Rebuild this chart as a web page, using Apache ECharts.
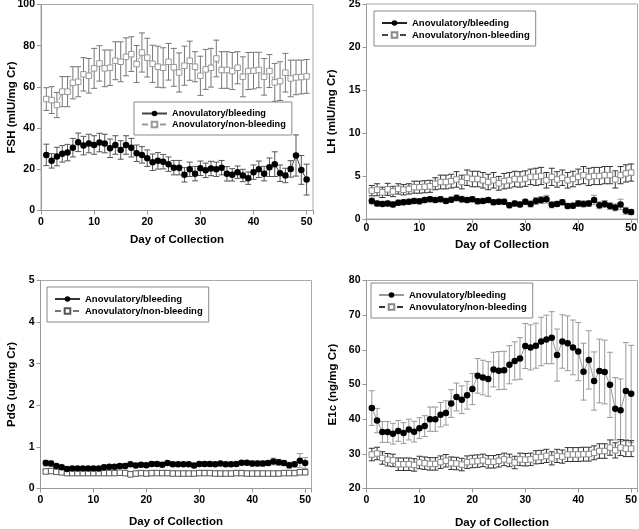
<!DOCTYPE html>
<html><head><meta charset="utf-8">
<script src="https://cdn.jsdelivr.net/npm/echarts@6/dist/echarts.min.js"></script>
<style>html,body{margin:0;padding:0;background:#fff}#c{width:639px;height:529px}</style>
</head><body><div id="c"></div>
<script>
const days = [1,2,3,4,5,6,7,8,9,10,11,12,13,14,15,16,17,18,19,20,21,22,23,24,25,26,27,28,29,30,31,32,33,34,35,36,37,38,39,40,41,42,43,44,45,46,47,48,49,50];
const seriesNames = ['Anovulatory/bleeding', 'Anovulatory/non-bleeding'];
const xTitle = 'Day of Collection';

const FSH_bleed = [27.0,24.1,26.2,27.5,28.1,30.5,33.1,31.5,32.5,31.8,33.0,32.5,30.2,31.8,29.4,31.8,30.5,27.8,27.0,25.4,23.4,24.1,23.7,22.5,20.8,20.8,17.3,20.0,17.9,20.5,19.5,20.4,20.0,20.8,17.8,17.3,18.6,17.0,15.7,18.6,20.0,17.9,21.0,22.5,18.1,17.0,20.2,26.7,19.7,15.0];
const FSH_bleed_err = [5.2,3.5,4.5,4.0,4.0,4.5,4.5,4.5,4.5,4.5,4.5,4.5,4.5,4.5,4.5,4.5,4.5,4.0,4.0,4.0,4.0,4.0,3.5,3.5,3.5,3.5,3.5,3.5,3.5,3.5,3.5,3.5,3.5,3.5,3.5,3.0,3.0,3.0,3.0,3.5,4.0,3.5,4.5,6.0,4.0,3.5,4.0,10.0,7.0,7.5];
const FSH_non = [54.1,53.6,51.2,57.7,57.7,62.0,62.5,66.1,65.4,69.0,71.4,69.0,69.3,72.7,72.2,74.6,75.9,71.1,76.7,74.2,71.2,69.8,69.3,72.2,69.5,67.0,70.3,72.7,69.8,65.4,68.5,69.3,73.8,68.2,68.2,67.7,69.3,64.9,67.7,67.9,68.2,64.9,67.7,62.2,62.8,66.9,64.1,64.6,64.8,65.1];
const FSH_non_err = [5.5,6.5,6.1,7.3,7.3,7.8,7.3,8.1,8.4,9.7,8.6,8.9,8.6,9.2,9.7,9.2,8.4,9.0,9.5,9.4,9.0,10.0,9.7,8.9,9.2,9.5,9.5,9.5,7.3,9.5,9.7,9.4,8.9,8.9,8.9,9.0,7.8,9.7,9.0,8.9,8.6,8.9,8.0,9.2,9.4,9.4,8.9,8.4,8.2,8.2];

const LH_bleed = [2.1,1.8,1.75,1.8,1.7,1.9,1.95,2.0,2.1,2.05,2.2,2.3,2.2,2.3,2.1,2.25,2.45,2.3,2.2,2.3,2.05,2.1,2.2,1.95,2.0,2.0,1.6,1.8,1.7,2.0,1.75,2.1,2.2,2.3,1.65,1.75,1.95,1.5,1.55,1.8,1.75,1.8,2.2,1.6,1.75,1.5,1.35,1.7,0.95,0.8];
const LH_bleed_err = [0.35,0.3,0.3,0.3,0.3,0.3,0.3,0.3,0.3,0.3,0.3,0.3,0.3,0.3,0.3,0.3,0.35,0.35,0.3,0.3,0.3,0.3,0.3,0.3,0.3,0.3,0.3,0.3,0.3,0.3,0.35,0.4,0.4,0.45,0.35,0.3,0.3,0.3,0.3,0.35,0.35,0.35,0.55,0.4,0.4,0.4,0.4,0.6,0.4,0.3];
const LH_non = [3.3,3.4,3.1,3.45,3.2,3.5,3.4,3.5,3.7,3.7,3.75,3.8,4.1,4.3,4.3,4.4,4.6,4.3,4.8,4.65,4.65,4.5,4.3,4.5,4.15,4.4,4.5,4.65,4.6,4.7,4.9,4.9,5.0,4.5,4.9,4.6,4.8,4.5,4.65,4.9,5.1,4.9,5.0,5.0,5.1,5.1,4.6,5.1,5.3,5.4];
const LH_non_err = [0.6,0.7,0.6,0.7,0.6,0.6,0.6,0.6,0.7,0.7,0.7,0.7,0.7,0.8,0.8,0.8,0.9,0.8,0.9,0.9,0.9,0.9,0.9,0.9,0.8,0.9,0.9,0.9,0.9,0.9,0.9,1.0,1.0,0.9,1.0,0.9,0.9,0.9,0.9,0.9,1.0,1.0,1.0,1.0,1.0,1.0,1.0,1.0,1.0,1.0];

const PdG_bleed = [0.61,0.60,0.54,0.51,0.47,0.48,0.48,0.48,0.48,0.48,0.48,0.51,0.52,0.52,0.54,0.54,0.58,0.55,0.57,0.56,0.59,0.59,0.57,0.61,0.58,0.58,0.58,0.58,0.55,0.59,0.59,0.59,0.58,0.60,0.58,0.58,0.59,0.62,0.62,0.60,0.60,0.60,0.61,0.65,0.63,0.61,0.56,0.58,0.67,0.61];
const PdG_bleed_err = [0.07,0.06,0.05,0.05,0.05,0.05,0.05,0.05,0.05,0.05,0.05,0.05,0.05,0.05,0.05,0.05,0.05,0.05,0.05,0.05,0.05,0.05,0.05,0.05,0.05,0.05,0.05,0.05,0.05,0.05,0.05,0.05,0.05,0.05,0.05,0.05,0.05,0.05,0.05,0.06,0.06,0.06,0.06,0.08,0.07,0.06,0.07,0.06,0.17,0.13];
const PdG_non = [0.41,0.42,0.40,0.39,0.37,0.37,0.37,0.37,0.37,0.37,0.37,0.37,0.37,0.37,0.38,0.37,0.34,0.36,0.37,0.36,0.37,0.37,0.37,0.37,0.36,0.36,0.36,0.36,0.36,0.37,0.37,0.37,0.36,0.36,0.36,0.36,0.37,0.37,0.36,0.36,0.36,0.36,0.36,0.36,0.36,0.37,0.37,0.37,0.39,0.39];
const PdG_non_err = [0.04,0.04,0.04,0.04,0.03,0.03,0.03,0.03,0.03,0.03,0.03,0.03,0.03,0.03,0.03,0.03,0.03,0.03,0.03,0.03,0.03,0.03,0.03,0.03,0.03,0.03,0.03,0.03,0.03,0.03,0.03,0.03,0.03,0.03,0.03,0.03,0.03,0.03,0.03,0.03,0.03,0.03,0.03,0.03,0.03,0.03,0.03,0.03,0.04,0.04];

const E1c_bleed = [43.2,39.6,36.3,36.3,35.8,36.6,36.0,37.0,36.4,37.4,38.0,40.0,40.0,41.3,41.8,44.5,46.4,45.6,46.9,48.7,52.5,52.0,51.6,54.3,54.0,54.1,55.7,56.8,57.5,61.1,60.7,61.2,62.4,63.0,63.5,58.5,62.4,61.9,60.7,59.5,53.7,57.1,51.0,53.9,53.6,49.9,43.0,42.6,48.1,47.3];
const E1c_bleed_err = [5.0,3.5,3.0,3.0,3.0,3.0,3.0,3.0,3.0,3.0,3.0,3.5,3.5,3.5,3.5,4.0,4.0,4.0,4.0,4.5,5.0,5.0,5.0,5.0,5.5,5.5,5.5,5.5,6.0,6.5,6.5,6.5,7.0,7.0,7.5,7.5,7.7,7.9,7.9,8.4,8.2,8.4,8.4,9.2,9.2,9.4,9.0,9.0,14.0,14.0];
const E1c_non = [29.8,30.1,28.8,28.3,28.1,27.0,27.0,27.0,26.8,27.5,27.3,27.1,27.1,27.6,28.0,27.3,27.2,26.9,27.6,27.8,27.9,28.1,27.7,27.7,28.0,28.4,28.1,27.5,28.4,28.3,28.4,29.0,29.1,29.4,28.7,29.4,29.2,29.8,29.8,29.8,29.9,29.9,30.3,30.8,30.8,31.8,31.0,31.8,31.5,31.5];
const E1c_non_err = [1.8,1.8,1.8,1.8,1.8,1.8,1.8,1.8,1.8,1.8,1.8,1.8,1.8,1.8,1.8,1.8,1.8,1.8,1.8,1.8,1.8,1.8,1.8,1.8,1.8,1.8,1.8,1.8,1.8,1.8,1.8,1.9,1.9,1.9,1.9,1.9,1.9,2.0,2.0,2.0,2.0,2.0,2.0,2.1,2.1,2.2,2.2,2.3,2.3,2.3];

const FONT = '"Liberation Sans", Arial, sans-serif';

const panels = [
  {grid:{left:41,top:4.5,width:272,height:206}, ymin:0, ymax:100, yint:20, yname:'FSH (mIU/mg Cr)', yGap:23, xGap:23, xMargin:6, legFont:9.2,
   bleed:FSH_bleed, bleedErr:FSH_bleed_err, non:FSH_non, nonErr:FSH_non_err,
   bLine:'#444', bErr:'#555', nLine:'#999', nSym:'#999', nErr:'#777',
   legend:{left:134, top:102}},
  {grid:{left:366.5,top:4,width:271,height:215}, ymin:0, ymax:25, yint:5, yname:'LH (mIU/mg Cr)', yGap:28.5, xGap:19.5, xMargin:4, legFont:9.5,
   bleed:LH_bleed, bleedErr:LH_bleed_err, non:LH_non, nonErr:LH_non_err,
   bLine:'#222', bErr:'#999', nLine:'#444', nSym:'#888', nErr:'#333',
   legend:{left:374, top:11}},
  {grid:{left:40.5,top:280.5,width:271,height:208}, ymin:0, ymax:5, yint:1, yname:'PdG (ug/mg Cr)', yGap:22.5, xGap:27, xMargin:6, legFont:9.5,
   bleed:PdG_bleed, bleedErr:PdG_bleed_err, non:PdG_non, nonErr:PdG_non_err,
   bLine:'#333', bErr:'#999', nLine:'#777', nSym:'#555', nErr:'#777',
   legend:{left:47, top:287}},
  {grid:{left:366.5,top:280.5,width:271,height:208}, ymin:20, ymax:80, yint:10, yname:'E1c (ng/mg Cr)', yGap:28, xGap:28, xMargin:6, legFont:9.5,
   bleed:E1c_bleed, bleedErr:E1c_bleed_err, non:E1c_non, nonErr:E1c_non_err,
   bLine:'#999', bErr:'#999', nLine:'#333', nSym:'#888', nErr:'#333',
   legend:{left:371, top:283}}
];

function errRender(color){
  return function(params, api){
    const x = api.value(0), lo = api.value(1), hi = api.value(2);
    const p1 = api.coord([x, hi]);
    const p2 = api.coord([x, lo]);
    const w = 3;
    const style = {stroke: color, lineWidth: 1, fill: null};
    return {type:'group', children:[
      {type:'line', shape:{x1:p1[0], y1:p1[1], x2:p2[0], y2:p2[1]}, style: style},
      {type:'line', shape:{x1:p1[0]-w, y1:p1[1], x2:p1[0]+w, y2:p1[1]}, style: style},
      {type:'line', shape:{x1:p2[0]-w, y1:p2[1], x2:p2[0]+w, y2:p2[1]}, style: style}
    ]};
  };
}

const option = {animation:false, backgroundColor:'#fff', grid:[], xAxis:[], yAxis:[], series:[], legend:[]};
panels.forEach((p, i) => {
  option.grid.push(Object.assign({show:true, borderColor:'#aaa', borderWidth:1, backgroundColor:'transparent',
    containLabel:false, outerBoundsMode:'none'}, p.grid));
  option.xAxis.push({type:'value', gridIndex:i, min:0, max:51.2, interval:10,
    axisLine:{show:true, lineStyle:{color:'#999'}}, axisTick:{show:true, length:4, lineStyle:{color:'#999'}},
    splitLine:{show:false},
    axisLabel:{margin:p.xMargin, color:'#000', fontFamily:FONT, fontSize:10.5, fontWeight:'bold', formatter:v => (v % 10 === 0 ? String(v) : '')},
    name:xTitle, nameLocation:'middle', nameGap:p.xGap, nameMoveOverlap:false,
    nameTextStyle:{color:'#000', fontFamily:FONT, fontSize:11.5, fontWeight:'bold'}});
  option.yAxis.push({type:'value', gridIndex:i, min:p.ymin, max:p.ymax, interval:p.yint,
    axisLine:{show:true, lineStyle:{color:'#999'}}, axisTick:{show:true, length:4, lineStyle:{color:'#999'}},
    splitLine:{show:false},
    axisLabel:{margin:6, color:'#000', fontFamily:FONT, fontSize:10.5, fontWeight:'bold'},
    name:p.yname, nameLocation:'middle', nameGap:p.yGap, nameMoveOverlap:false,
    nameTextStyle:{color:'#000', fontFamily:FONT, fontSize:11.5, fontWeight:'bold'}});
  const nb = seriesNames[0] + '#' + i, nn = seriesNames[1] + '#' + i;
  option.series.push({type:'custom', name:'errB'+i, xAxisIndex:i, yAxisIndex:i, z:1,
    renderItem:errRender(p.bErr), data:days.map((d,k)=>[d, p.bleed[k]-p.bleedErr[k], p.bleed[k]+p.bleedErr[k]])});
  option.series.push({type:'custom', name:'errN'+i, xAxisIndex:i, yAxisIndex:i, z:1,
    renderItem:errRender(p.nErr), data:days.map((d,k)=>[d, p.non[k]-p.nonErr[k], p.non[k]+p.nonErr[k]])});
  option.series.push({type:'line', name:nn, xAxisIndex:i, yAxisIndex:i, z:3,
    symbol:'rect', symbolSize:5.5, showAllSymbol:true,
    itemStyle:{color:'#fff', borderColor:p.nSym, borderWidth:1},
    lineStyle:{color:p.nLine, width:1, type:[6,3]},
    data:days.map((d,k)=>[d, p.non[k]])});
  option.series.push({type:'line', name:nb, xAxisIndex:i, yAxisIndex:i, z:4,
    symbol:'circle', symbolSize:6.5, showAllSymbol:true,
    itemStyle:{color:'#000'},
    lineStyle:{color:p.bLine, width:1},
    data:days.map((d,k)=>[d, p.bleed[k]])});
  option.legend.push({left:p.legend.left, top:p.legend.top, orient:'vertical', selectedMode:false,
    data:[nb, nn], itemWidth:25, itemHeight:7, itemGap:2,
    padding:[7,6,6,7], borderColor:'#888', borderWidth:1, backgroundColor:'#fff',
    formatter:n => n.replace(/#\d+$/, ''),
    textStyle:{color:'#000', fontFamily:FONT, fontSize:p.legFont, fontWeight:'bold'}});
});

const chart = echarts.init(document.getElementById('c'), null, {renderer:'canvas'});
chart.setOption(option);
</script>
</body></html>
